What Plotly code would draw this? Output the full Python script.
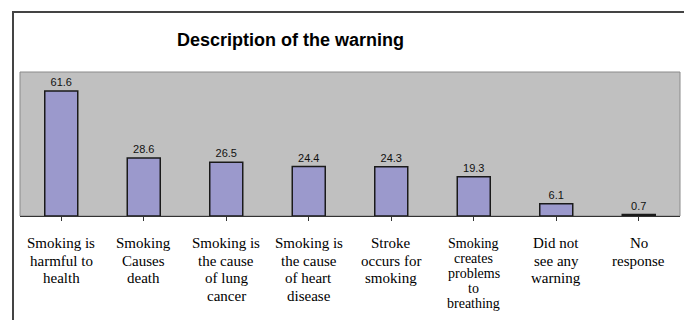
import plotly.graph_objects as go

categories = [
    "Smoking is<br>harmful to<br>health",
    "Smoking<br>Causes<br>death",
    "Smoking is<br>the cause<br>of lung<br>cancer",
    "Smoking is<br>the cause<br>of heart<br>disease",
    "Stroke<br>occurs for<br>smoking",
    "Smoking<br>creates<br>problems<br>to<br>breathing",
    "Did not<br>see any<br>warning",
    "No<br>response",
]
values = [61.6, 28.6, 26.5, 24.4, 24.3, 19.3, 6.1, 0.7]
value_labels = [f"{v:.1f}" for v in values]

fig = go.Figure(
    go.Bar(
        x=list(range(len(categories))),
        y=values,
        text=value_labels,
        textposition="outside",
        cliponaxis=False,
        textfont=dict(family="Liberation Sans, Arial, sans-serif", size=11, color="#111111"),
        width=0.4,
        marker=dict(color="#9b99cc", line=dict(color="#1a1a1a", width=1.5)),
    )
)

# Category labels: one annotation per line so long labels can be packed tighter
serif = "Liberation Serif, Times New Roman, serif"
label_annotations = []
for i, cat in enumerate(categories):
    lines = cat.split("<br>")
    long_label = len(lines) > 4
    step = 15 if long_label else 17.5
    size = 14 if long_label else 15
    for j, line in enumerate(lines):
        label_annotations.append(
            dict(
                text=line,
                x=i,
                y=0,
                xref="x",
                yref="paper",
                xanchor="center",
                yanchor="middle",
                yshift=-(27 + j * step),
                showarrow=False,
                borderpad=0,
                font=dict(family=serif, size=size, color="#000000"),
            )
        )

# plot area spans 660 x 144 px; paper coords below are derived from that
fig.update_layout(
    width=684,
    height=320,
    margin=dict(l=20, r=4, t=72, b=104),
    paper_bgcolor="white",
    plot_bgcolor="#c0c0c0",
    showlegend=False,
    bargap=0.6,
    xaxis=dict(
        tickmode="array",
        tickvals=list(range(len(categories))),
        ticktext=[""] * len(categories),
        range=[-0.5, len(categories) - 0.5],
        tickson="boundaries",
        ticks="outside",
        ticklen=4,
        tickcolor="#333333",
        showline=True,
        linecolor="#333333",
        linewidth=1,
        showgrid=False,
        zeroline=False,
        automargin=False,
        fixedrange=True,
    ),
    yaxis=dict(
        range=[0, 71],
        visible=False,
        showgrid=False,
        zeroline=False,
        automargin=False,
        fixedrange=True,
    ),
    annotations=[
        dict(
            text="<b>Description of the warning</b>",
            x=270 / 660,
            y=176 / 144,
            xref="paper",
            yref="paper",
            xanchor="center",
            yanchor="middle",
            showarrow=False,
            font=dict(family="Liberation Sans, Arial, sans-serif", size=18, color="#000000"),
        )
    ]
    + label_annotations,
    shapes=[
        # outer chart frame
        dict(
            type="rect",
            xref="paper",
            yref="paper",
            x0=-7 / 660,
            y0=-1.0,
            x1=1.1,
            y1=204 / 144,
            line=dict(color="#444444", width=2),
            fillcolor="rgba(0,0,0,0)",
            layer="below",
        ),
        # plot area border
        dict(
            type="rect",
            xref="paper",
            yref="paper",
            x0=0,
            y0=0,
            x1=1,
            y1=1,
            line=dict(color="#8a8a8a", width=1),
            fillcolor="rgba(0,0,0,0)",
            layer="below",
        ),
    ],
)

fig.write_html("out.html")
